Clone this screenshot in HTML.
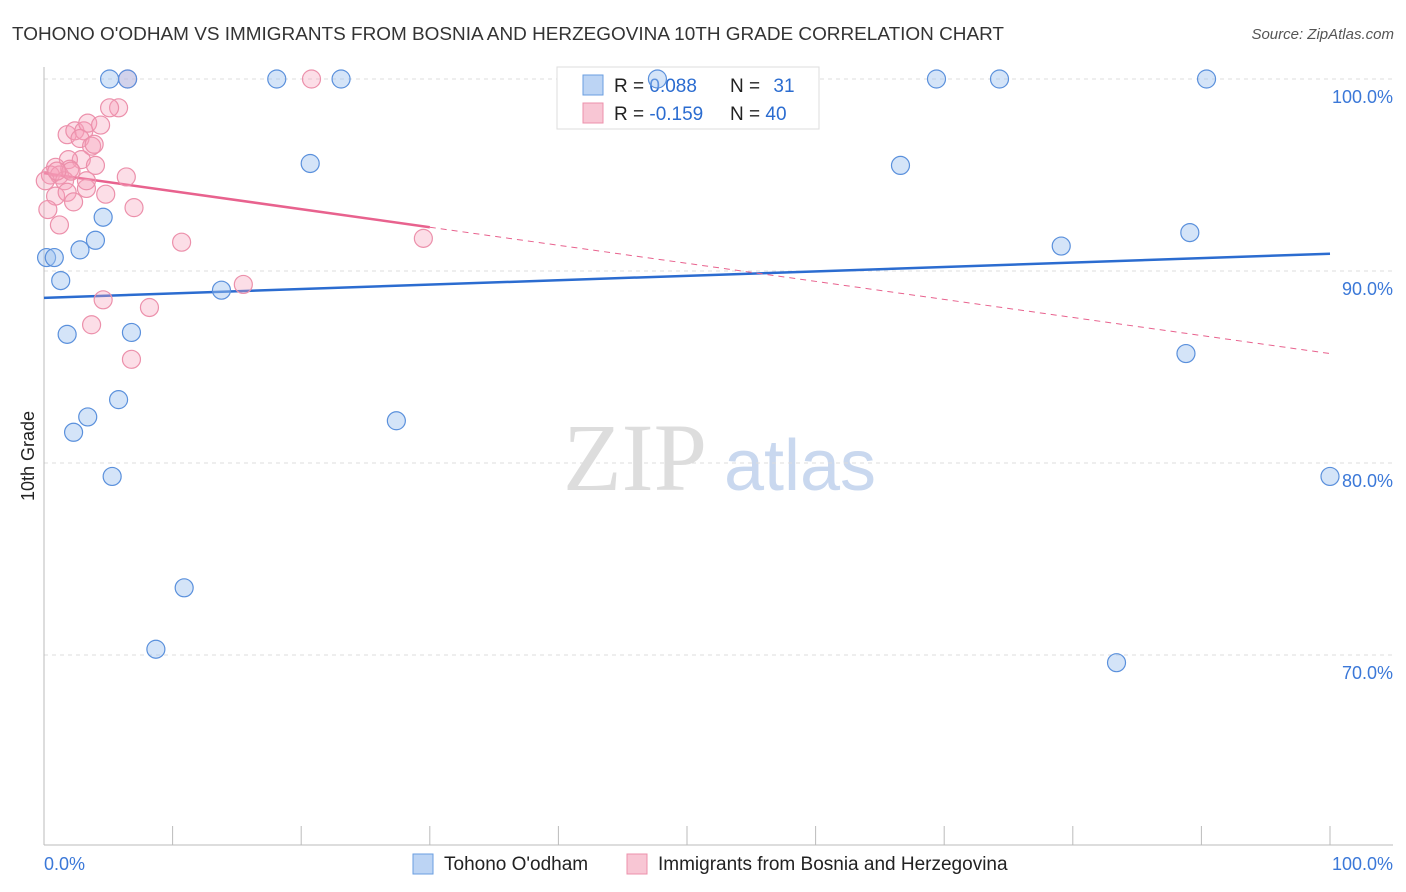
<!DOCTYPE html>
<html><head><meta charset="utf-8"><style>
body{margin:0;background:#fff;font-family:"Liberation Sans",sans-serif;}
svg{display:block}
</style></head><body>
<svg id="c" width="1406" height="892" xmlns="http://www.w3.org/2000/svg">
<text x="12" y="40" font-size="18" fill="#333" textLength="992" lengthAdjust="spacingAndGlyphs">TOHONO O'ODHAM VS IMMIGRANTS FROM BOSNIA AND HERZEGOVINA 10TH GRADE CORRELATION CHART</text>
<text x="1394" y="39" font-size="15" fill="#555" font-style="italic" text-anchor="end">Source: ZipAtlas.com</text>
<text x="34" y="456" font-size="18" fill="#222" text-anchor="middle" transform="rotate(-90 34 456)">10th Grade</text>
<g>
<text x="635" y="490" font-size="96" fill="#ddd" font-family="Liberation Serif,serif" text-anchor="middle">ZIP</text>
<text x="800" y="490" font-size="72" fill="#c9d8ef" text-anchor="middle">atlas</text>
</g>
<g id="grid"></g><g id="axes"></g><g id="lines"></g>
<g>
<rect x="557" y="67" width="262" height="62" fill="#fff" stroke="#ddd"/>
<rect x="583" y="75" width="20" height="20" fill="#bcd4f4" stroke="#6a9ee0"/>
<rect x="583" y="103" width="20" height="20" fill="#f8c6d4" stroke="#ec90ab"/>
<text x="614" y="92" font-size="19" fill="#222">R = <tspan fill="#2b6cd0">0.088</tspan></text>
<text x="730" y="92" font-size="19" fill="#222">N = <tspan fill="#2b6cd0" dx="8">31</tspan></text>
<text x="614" y="120" font-size="19" fill="#222">R = <tspan fill="#2b6cd0">-0.159</tspan></text>
<text x="730" y="120" font-size="19" fill="#222">N = <tspan fill="#2b6cd0">40</tspan></text>
</g>
<g id="pts"></g>
<g>
<rect x="413" y="854" width="20" height="20" fill="#bcd4f4" stroke="#6a9ee0"/>
<text x="444" y="870" font-size="19" fill="#222">Tohono O'odham</text>
<rect x="627" y="854" width="20" height="20" fill="#f8c6d4" stroke="#ec90ab"/>
<text x="658" y="870" font-size="19" fill="#222">Immigrants from Bosnia and Herzegovina</text>
</g>
</svg>
<script>
const yTicks=[70,80,90,100];
const yTickLabels=["70.0%","80.0%","90.0%","100.0%"];
const blueX=[5.1,6.5,18.1,23.1,47.7,69.4,74.3,90.4,20.7,66.6,4.6,4.0,2.8,0.2,0.8,79.1,89.1,1.3,13.8,1.8,6.8,88.8,5.8,3.4,2.3,27.4,5.3,100,10.9,8.7,83.4];
const blueY=[100,100,100,100,100,100,100,100,95.6,95.5,92.8,91.6,91.1,90.7,90.7,91.3,92.0,89.5,89.0,86.7,86.8,85.7,83.3,82.4,81.6,82.2,79.3,79.3,73.5,70.3,69.6];
const pinkX=[6.5,20.8,5.8,5.1,1.8,2.4,3.1,3.4,4.4,2.8,3.7,3.9,2.9,1.9,0.9,4.0,2.0,0.5,1.2,1.6,0.1,6.4,0.9,1.8,2.3,3.3,4.8,7.0,0.3,1.2,10.7,29.5,15.5,4.6,8.2,3.7,6.8,2.1,1.0,3.3];
const pinkY=[100,100,98.5,98.5,97.1,97.3,97.3,97.7,97.6,96.9,96.5,96.6,95.8,95.8,95.4,95.5,95.3,95.0,95.0,94.7,94.7,94.9,93.9,94.1,93.6,94.3,94.0,93.3,93.2,92.4,91.5,91.7,89.3,88.5,88.1,87.2,85.4,95.2,95.2,94.7];
const blueTrend=[88.6,90.9];
const pinkTrend=[95.1,85.7];
const pinkSolidEnd=30;
const NS="http://www.w3.org/2000/svg";
const X=v=>44+v*12.86, Y=v=>79+(100-v)*19.2;
function mk(tag,attrs,parent){const e=document.createElementNS(NS,tag);for(const k in attrs)e.setAttribute(k,attrs[k]);document.getElementById(parent).appendChild(e);return e;}
yTicks.forEach((t,i)=>{
 const g=mk('line',{x1:44,x2:1393,y1:Y(t),y2:Y(t),stroke:'#ddd','stroke-dasharray':'4,4'},'grid');
 
 
 const l=mk('text',{x:1393,y:Y(t)+24,'font-size':18,fill:'#3b78d8','text-anchor':'end'},'grid');
 l.textContent=yTickLabels[i];
 
 
});
let a=mk('line',{x1:44,x2:44,y1:67,y2:845,stroke:'#bbb'},'axes');


a=mk('line',{x1:44,x2:1393,y1:845,y2:845,stroke:'#bbb'},'axes');


for(let i=1;i<=10;i++){const t=mk('line',{x1:X(i*10),x2:X(i*10),y1:826,y2:845,stroke:'#bbb'},'axes');
 
 }
let t=mk('text',{x:44,y:870,'font-size':18,fill:'#3b78d8'},'axes');t.textContent='0.0%';


t=mk('text',{x:1393,y:870,'font-size':18,fill:'#3b78d8','text-anchor':'end'},'axes');t.textContent='100.0%';


function dot(x,y,fill,stroke,name){const c=mk('circle',{cx:X(x),cy:Y(y),r:9,fill:fill,stroke:stroke,'stroke-width':1.2},'pts');
 
 }
pinkX.forEach((x,i)=>dot(x,pinkY[i],'rgba(245,160,185,0.35)','#ec90ab','point-bosnia'));
blueX.forEach((x,i)=>dot(x,blueY[i],'rgba(160,195,240,0.45)','#5a90dc','point-tohono'));
let ln=mk('line',{x1:X(0),y1:Y(blueTrend[0]),x2:X(100),y2:Y(blueTrend[1]),stroke:'#2b6cd0','stroke-width':2.5},'lines');


const pAt=x=>pinkTrend[0]+(pinkTrend[1]-pinkTrend[0])*x/100;
ln=mk('line',{x1:X(0),y1:Y(pinkTrend[0]),x2:X(pinkSolidEnd),y2:Y(pAt(pinkSolidEnd)),stroke:'#e8628e','stroke-width':2.5},'lines');


ln=mk('line',{x1:X(pinkSolidEnd),y1:Y(pAt(pinkSolidEnd)),x2:X(100),y2:Y(pinkTrend[1]),stroke:'#e8628e','stroke-width':1,'stroke-dasharray':'6,5'},'lines');


</script>
</body></html>
